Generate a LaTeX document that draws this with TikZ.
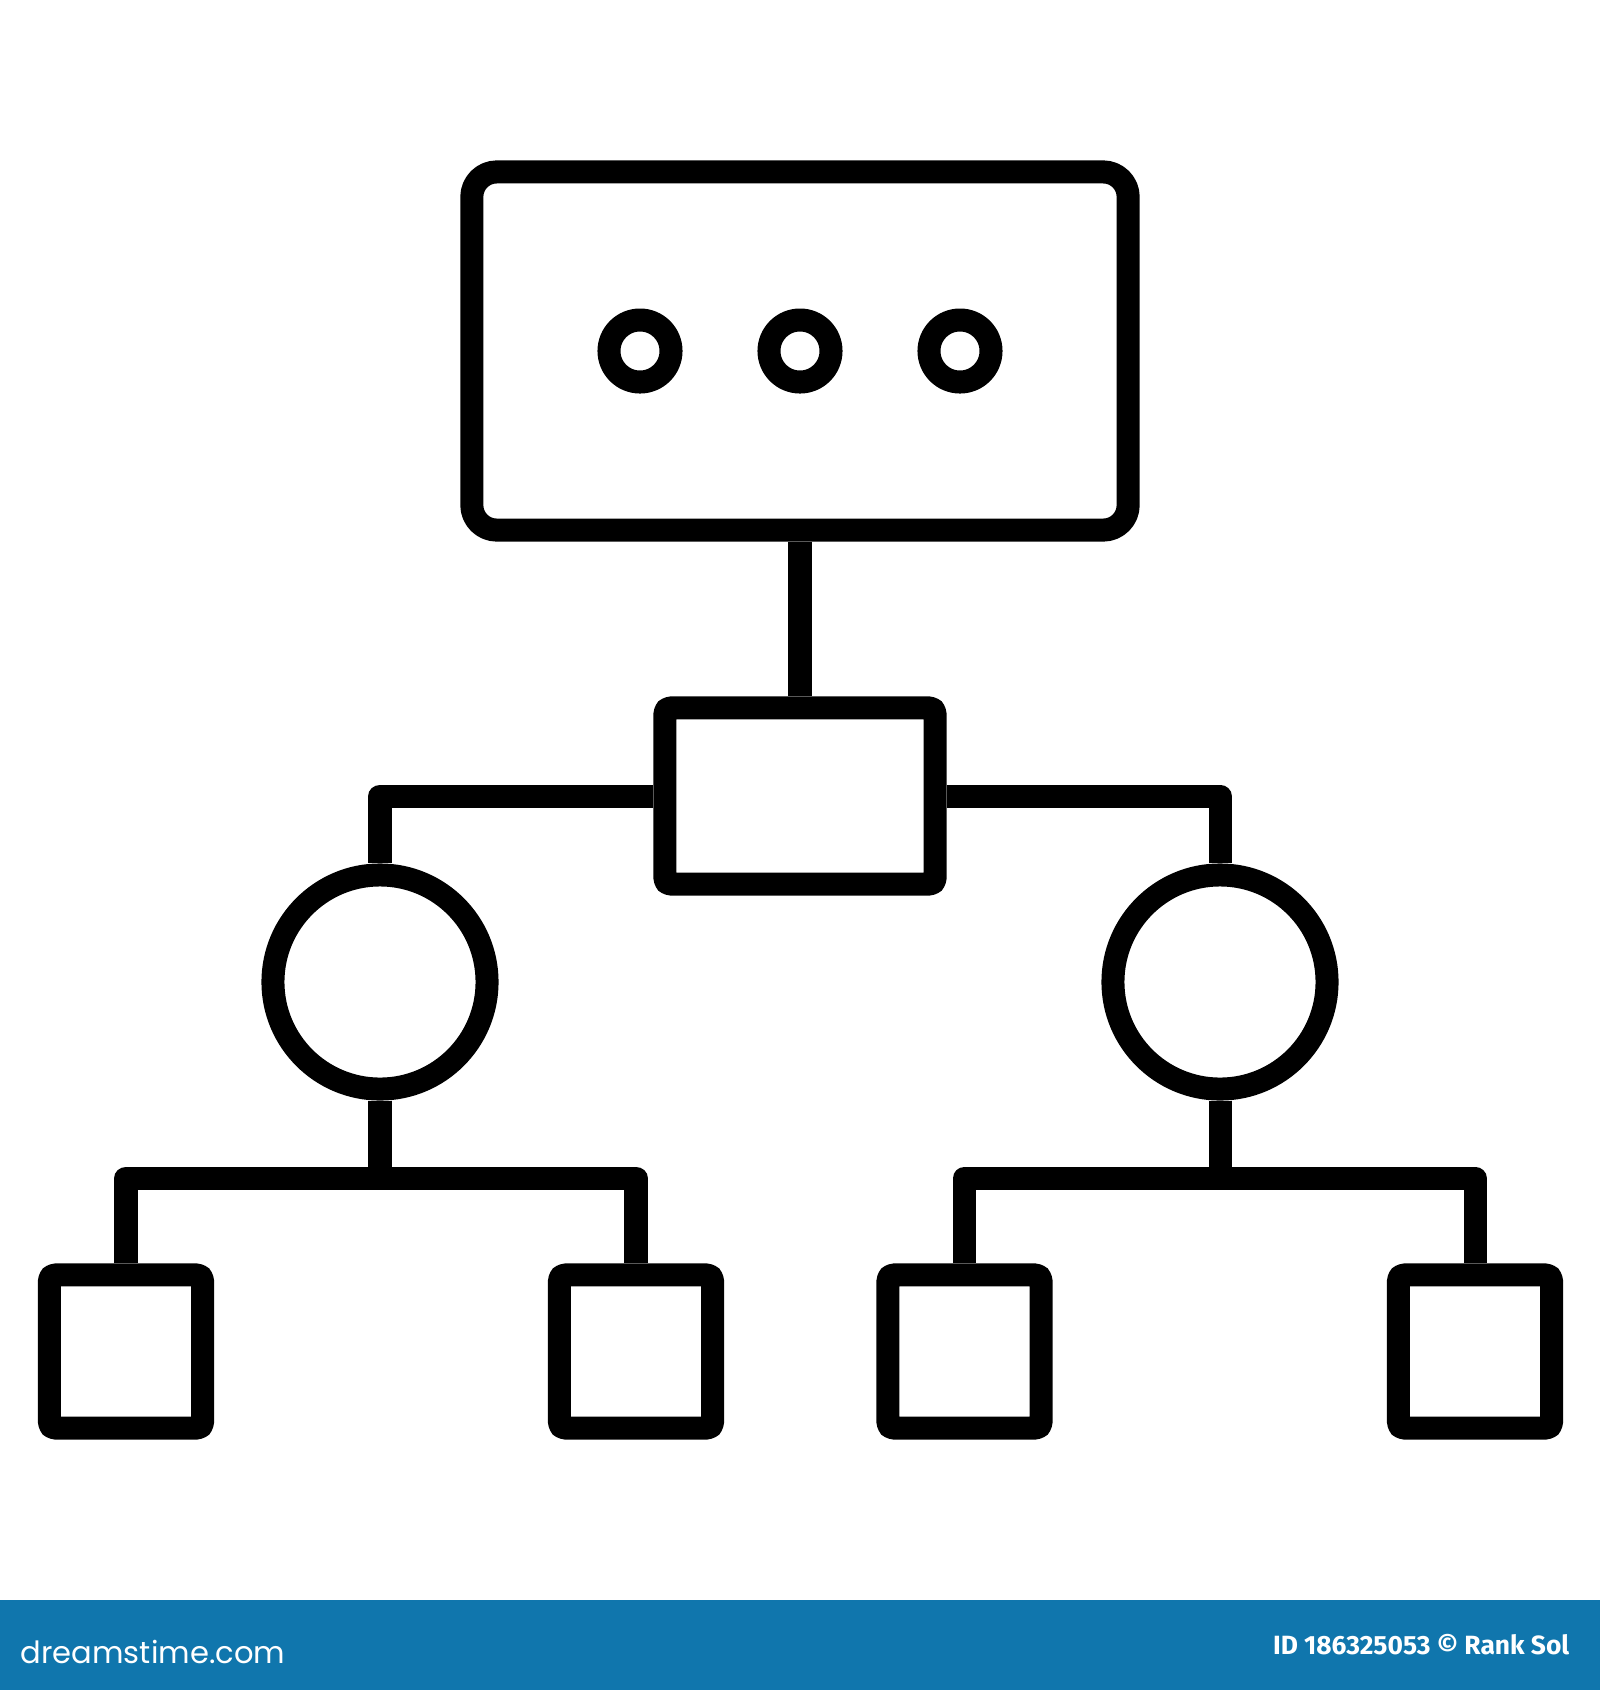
\documentclass[tikz,border=0pt]{standalone}
\usepackage{fontspec}
\usetikzlibrary{positioning,calc}
\newfontfamily\logofont{Poppins}
\newfontfamily\creditfont{Fira Sans}
\definecolor{bannerblue}{RGB}{16,118,173}

\begin{document}
\begin{tikzpicture}[x=0.01cm,y=-0.01cm,
        stroke/.style={line width=0.23cm, line join=round},
        box/.style={stroke, draw, rectangle, inner sep=0pt, rounded corners=1.5pt},
        ring/.style={stroke, draw, circle, inner sep=0pt}]
        \useasboundingbox (0,0) rectangle (1600,1690);
        \fill[white] (0,0) rectangle (1600,1690);

        % top box with three dots
        \node[box, minimum width=6.56cm, minimum height=3.58cm, rounded corners=0.25cm] (top) at (800,351) {};
        \foreach \x/\n in {640/a,800/b,960/c} {
            \node[ring, minimum size=0.62cm] (dot\n) at (\x,351) {};
        }

        % middle box and the two circles
        \node[box, minimum width=2.70cm, minimum height=1.76cm] (mid) at (800,796) {};
        \node[ring, minimum size=2.14cm] (lc) at (380,982) {};
        \node[ring, minimum size=2.14cm] (rc) at (1220,982) {};

        % bottom squares
        \foreach \x/\n in {126/1,636/2,964.5/3,1475/4} {
            \node[box, minimum size=1.53cm] (sq\n) at (\x,1351.5) {};
        }

        \coordinate (lj) at (380,1178);
        \coordinate (rj) at (1220,1178);

        \draw[stroke] (top.south) -- (mid.north);
        \draw[stroke] (mid.west) -| (lc.north);
        \draw[stroke] (mid.east) -| (rc.north);
        \draw[stroke] (lc.south) -- (lj);
        \draw[stroke] (rc.south) -- (rj);
        \draw[stroke] (sq1.north) |- (lj) -| (sq2.north);
        \draw[stroke] (sq3.north) |- (rj) -| (sq4.north);

        % banner
        \fill[bannerblue] (0,1600) rectangle (1600,1690);
        \node[anchor=base west, inner sep=0pt, text=white, font=\logofont\fontsize{8.7pt}{10pt}\selectfont] (logo) at (20,1663) {dreamstime.com};
        \node[anchor=base east, inner sep=0pt, text=white, font=\creditfont\bfseries\fontsize{7.5pt}{9pt}\selectfont] (credit) at (1570,1654) {ID 186325053 © Rank Sol};
    \end{tikzpicture}
\end{document}
